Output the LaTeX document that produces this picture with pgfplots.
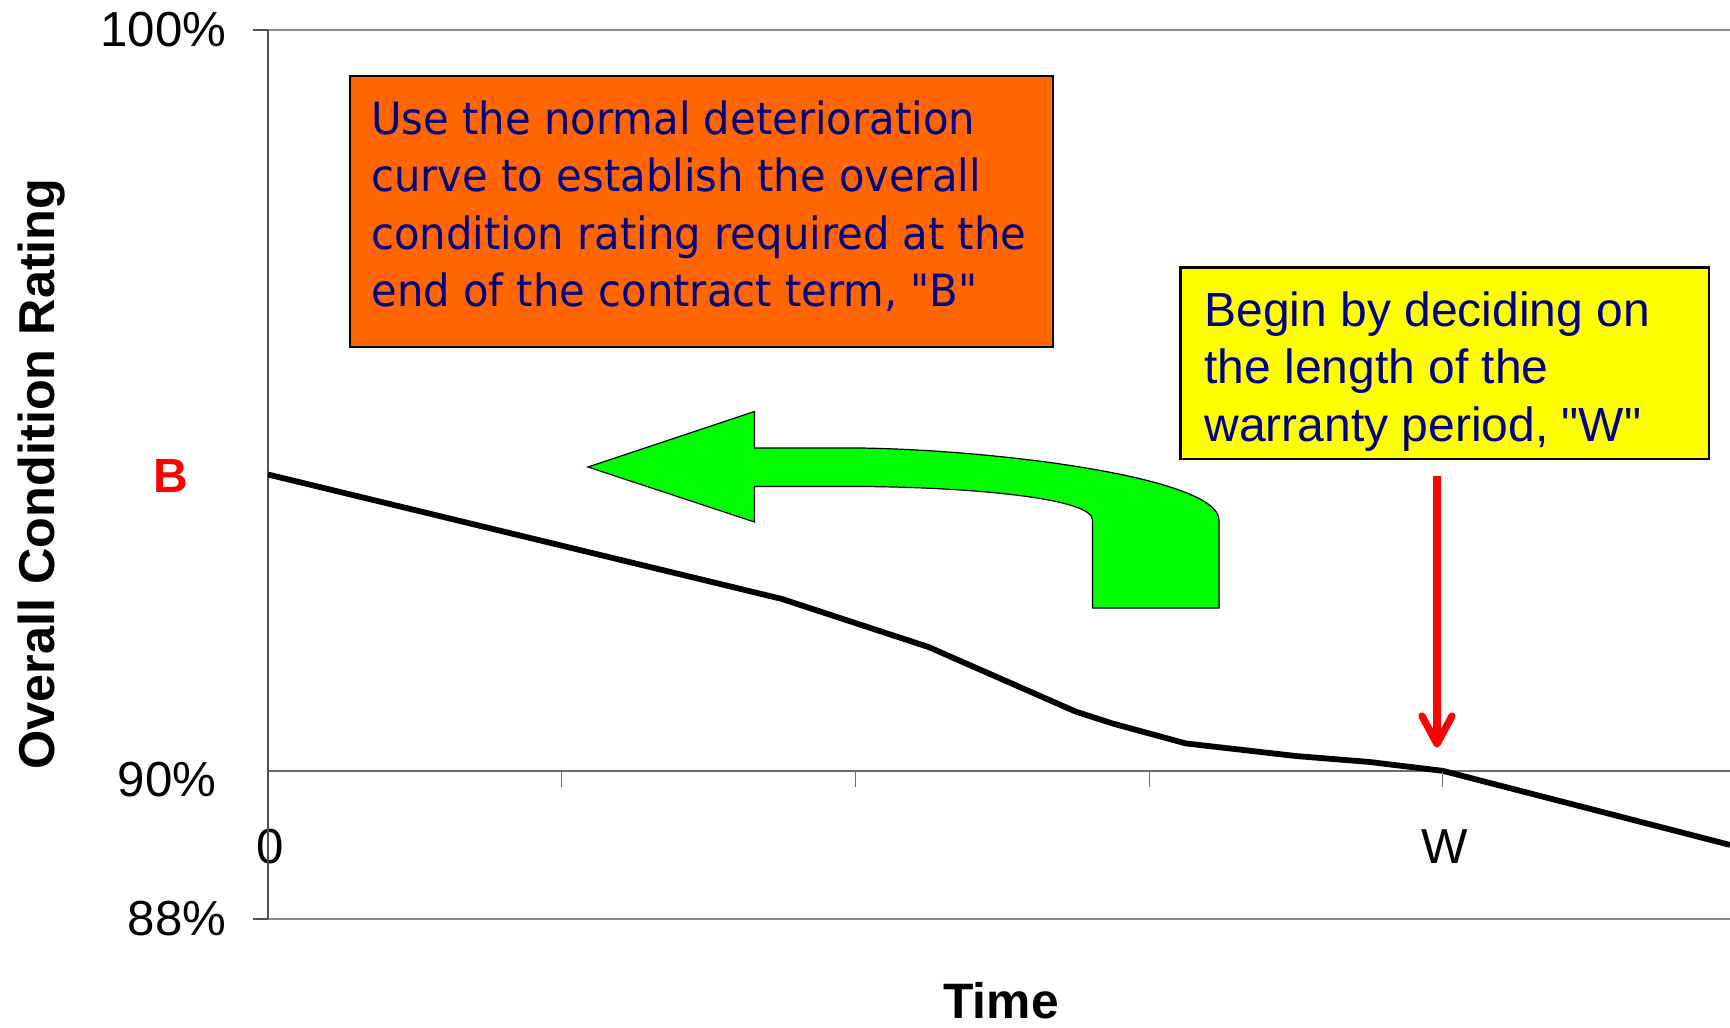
\documentclass[border=0pt]{standalone}
\usepackage{fontspec}
\setmainfont{Liberation Sans}
\newfontfamily\yfont{Liberation Sans}
\newfontfamily\boxfont[FakeStretch=0.94]{DejaVu Sans}
\usepackage{pgfplots}
\pgfplotsset{compat=1.18}
\definecolor{navytext}{RGB}{0,0,128}
\definecolor{orangebox}{RGB}{255,102,0}
\definecolor{greenarrow}{RGB}{0,255,0}
\definecolor{yellowbox}{RGB}{255,255,0}
\definecolor{axgray}{RGB}{140,140,140}
\definecolor{griddark}{RGB}{110,110,110}
\definecolor{axdark}{RGB}{80,80,80}
\begin{document}
\begin{tikzpicture}
\useasboundingbox (0,0) rectangle (865pt,-514pt);
\begin{axis}[
  at={(134pt,-459.5pt)}, anchor=south west,
  scale only axis, width=731pt, height=444.5pt,
  xmin=0, xmax=4.978, ymin=88, ymax=100,
  axis line style={draw=none},
  clip=false,
  major tick length=0pt,
  /pgf/number format/assume math mode=true,
  ticklabel style={font=\fontsize{24.6}{29}\selectfont},
  xtick={0,4}, xticklabels={0,W},
  xticklabel style={anchor=center, inner sep=0pt, yshift=36.25pt, xshift=1pt},
  ytick={88,100}, yticklabels={88\%,100\%},
  yticklabel style={anchor=east, inner sep=0pt, xshift=-20.7pt},
  extra y ticks={90}, extra y tick labels={90\%},
  extra y tick style={yticklabel style={xshift=-4.95pt, yshift=-4.5pt}},
  xlabel={Time},
  xlabel style={at={(axis description cs:0.5014,-0.0922)}, anchor=center, inner sep=0pt, font=\bfseries\fontsize{24.9}{30}\selectfont},
  ylabel={Overall Condition Rating},
  ylabel style={at={(axis description cs:-0.1546,0.5006)}, anchor=center, inner sep=0pt, font=\bfseries\fontsize{25.2}{30}\selectfont},
]
% axis frame and gridline
\draw[griddark, line width=0.75pt] (axis cs:0,90) -- (axis cs:4.978,90);
\draw[axgray, line width=1.3pt] (axis cs:0,100) -- (axis cs:4.978,100);
\draw[axgray, line width=1.3pt] (axis cs:0,88) -- (axis cs:4.978,88);
\draw[axdark, line width=1pt] (axis cs:0,88) -- (axis cs:0,100);
\addplot[black, line width=2.9pt, line join=round, mark=none] coordinates {
  (0,94.00) (1.5,92.56) (1.75,92.32) (2.25,91.67) (2.75,90.80) (2.875,90.64)
  (3.125,90.37) (3.5,90.20) (3.75,90.12) (4,90.00) (4.978,89.00)
};
\end{axis}
\begin{scope}[x=0.5pt, y=-0.5pt]
  % tick stubs
  \draw[axdark, line width=0.6pt] (253,30) -- (268,30);
  \draw[axdark, line width=0.6pt] (253,919) -- (268,919);
  \draw[griddark, line width=0.6pt] (561.7,772) -- (561.7,787);
  \draw[griddark, line width=0.6pt] (855.4,772) -- (855.4,787);
  \draw[griddark, line width=0.6pt] (1149.1,772) -- (1149.1,787);
  \draw[griddark, line width=0.6pt] (1442.8,772) -- (1442.8,787);
  % orange box
  \draw[fill=orangebox, draw=black, line width=1pt] (349.6,75.7) rectangle (1052.5,347.3);
  \begin{scope}[every node/.style={anchor=base west, inner sep=0pt, text=navytext, font=\boxfont\fontsize{22.2}{28.8}\selectfont}]
    \node at (371,134) {Use the normal deterioration};
    \node at (371,191.7) {curve to establish the overall};
    \node at (371,249.3) {condition rating required at the};
    \node at (371,306.7) {end of the contract term, "B"};
  \end{scope}
  % yellow box
  \draw[fill=yellowbox, draw=black, line width=1.2pt] (1180.6,267.5) rectangle (1709,459);
  \begin{scope}[every node/.style={anchor=base west, inner sep=0pt, text=navytext, font=\yfont\fontsize{24}{28.8}\selectfont}]
    \node at (1204,326) {Begin by deciding on};
    \node at (1204,383.3) {the length of the};
    \node at (1204,441) {warranty period, "W"};
  \end{scope}
  % green curved arrow
  \draw[fill=greenarrow, draw=black, line width=0.6pt, line join=miter]
    (588,467) -- (754.5,411.5) -- (754.5,448) -- (860,448)
    .. controls (1000,450) and (1219,478) .. (1219,520)
    -- (1219,608) -- (1092.5,608) -- (1092.5,520)
    .. controls (1092.5,497) and (960,487) .. (860,486.5)
    -- (754.5,486.5) -- (754.5,522) -- cycle;
  % red arrow
  \draw[red, line width=3.6pt, line cap=butt] (1437,476) -- (1437,738);
  \draw[red, line width=3.6pt, line cap=round, line join=round] (1422,716) -- (1437,744) -- (1452,716);
  % B marker
  \node[text=red, inner sep=0pt, font=\bfseries\fontsize{24}{29}\selectfont] at (171,476) {B};
\end{scope}
\end{tikzpicture}
\end{document}
